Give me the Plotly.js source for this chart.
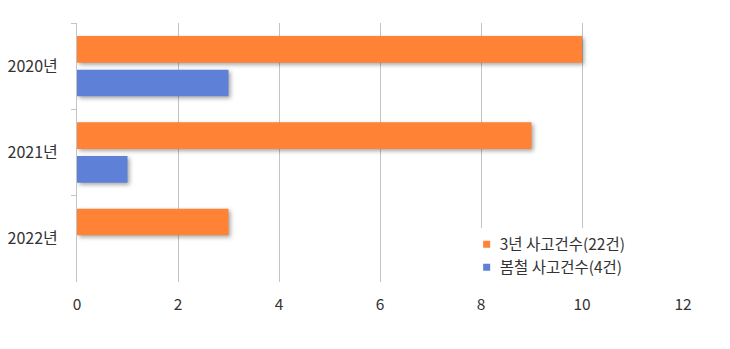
<!DOCTYPE html>
<html>
<head>
<meta charset="utf-8">
<script src="https://cdn.plot.ly/plotly-3.0.1.min.js"></script>
<style>
  html, body { margin: 0; padding: 0; background: #fff; }
  #chart { width: 730px; height: 349px; }
  .trace.bars .point path { filter: drop-shadow(2px 2px 2px rgba(0,0,0,0.35)); }
</style>
</head>
<body>
<div id="chart"></div>
<script>
const categories = ['2020년', '2021년', '2022년'];
const seriesNames = ['3년 사고건수(22건)', '봄철 사고건수(4건)'];
const threeYearCounts = [10, 9, 3];
const springCounts = [3, 1, 0];
const xTickValues = [0, 2, 4, 6, 8, 10, 12];

const FONT = '"Noto Sans CJK KR", "Noto Sans", sans-serif';
const GRID = '#c4c4c4';

const traces = [
  {
    type: 'bar', orientation: 'h', name: seriesNames[0],
    y: categories, x: threeYearCounts,
    marker: { color: '#FF8235' }, hoverinfo: 'skip'
  },
  {
    type: 'bar', orientation: 'h', name: seriesNames[1],
    y: categories, x: springCounts,
    marker: { color: '#5F80D7' }, hoverinfo: 'skip'
  }
];

const layout = {
  width: 730, height: 349,
  margin: { l: 77, r: 47, t: 23, b: 67 },
  paper_bgcolor: '#fff', plot_bgcolor: '#fff',
  font: { family: FONT, size: 16, color: '#333' },
  barmode: 'group', bargap: 0.22, bargroupgap: 0.21,
  showlegend: true,
  legend: {
    x: 0.643, y: 0.21, xanchor: 'left', yanchor: 'top',
    bgcolor: '#fff', traceorder: 'normal',
    font: { family: FONT, size: 15.5, color: '#333' }
  },
  xaxis: {
    range: [0, 12], tickvals: xTickValues, ticktext: xTickValues.map(String),
    showgrid: true, gridcolor: GRID, gridwidth: 1,
    zeroline: false, showline: false, ticks: '',
    ticklabelstandoff: 11, fixedrange: true,
    tickfont: { family: FONT, size: 15.5, color: '#333' }
  },
  yaxis: {
    type: 'category', categoryorder: 'array', categoryarray: categories,
    autorange: 'reversed', showgrid: false, zeroline: false,
    showline: true, linecolor: GRID, linewidth: 1,
    ticks: 'outside', tickson: 'boundaries', ticklen: 5, tickcolor: GRID,
    ticklabelstandoff: 15, fixedrange: true,
    tickfont: { family: FONT, size: 16, color: '#333' }
  }
};

Plotly.newPlot('chart', traces, layout, { displayModeBar: false, staticPlot: true }).then(function (gd) {
  gd.querySelectorAll('.legend .legendpoints path').forEach(function (p) {
    p.setAttribute('d', 'M3.5,3.5H-3.5V-3.5H3.5Z');
  });
  gd.querySelectorAll('.legend .legendtext').forEach(function (t) {
    t.setAttribute('x', '33');
  });
});
</script>
</body>
</html>
